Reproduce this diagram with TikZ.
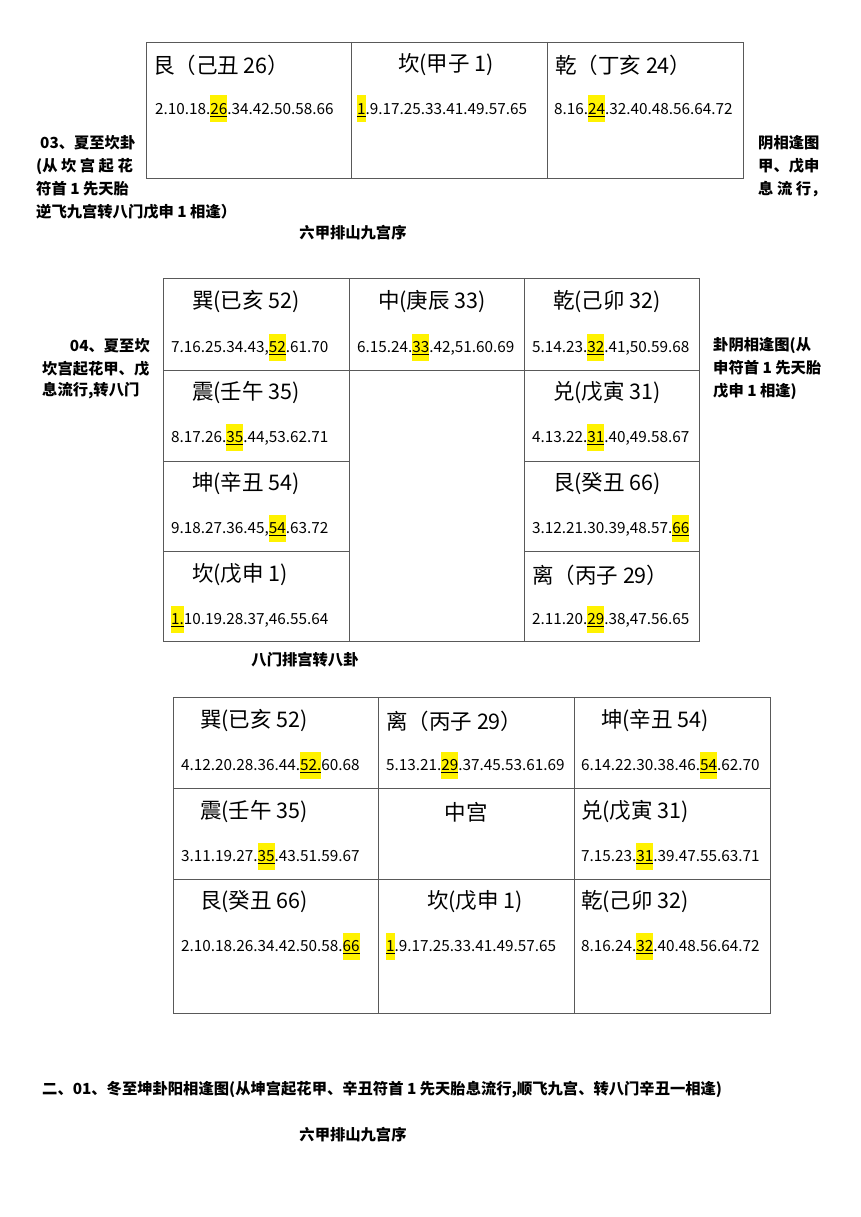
\documentclass[tikz,border=0pt]{standalone}
\usepackage{fontspec}
\setmainfont{Noto Sans CJK SC}
\usetikzlibrary{positioning}
\newcommand\hl[1]{{\setlength\fboxsep{0pt}\colorbox{yellow}{\rule[-8pt]{0pt}{27pt}\underline{#1}}}}
\tikzset{%
      grid/.style = { draw=black!65, line width=0.8pt },
       ttl/.style = { anchor=west, inner sep=0pt, font=\fontsize{21.5}{21.5}\selectfont },
       num/.style = { anchor=west, inner sep=0pt, font=\fontsize{15.3}{15.3}\selectfont },
      side/.style = { anchor=west, inner sep=0pt, font=\bfseries\fontsize{15.3}{15.3}\selectfont },
   caption/.style = { inner sep=0pt, font=\bfseries\fontsize{15.3}{15.3}\selectfont }
}
\begin{document}
\begin{tikzpicture}[x=1pt,y=-1pt]
\useasboundingbox (0,0) rectangle (860,1217);
% top table
\draw[grid] (146,42) rectangle (743,178);
\draw[grid] (351,42) -- (351,178) (547,42) -- (547,178);
\node[ttl] (gen1) at (153,65) {艮（己丑 26）};
\node[num] (gen1n) at (155,109) {2.10.18.\hl{26}.34.42.50.58.66};
\node[ttl] (kan1) at (398,65) {坎(甲子 1)};
\node[num] (kan1n) at (357,109) {\hl{1}.9.17.25.33.41.49.57.65};
\node[ttl] (qian1) at (555,65) {乾（丁亥 24）};
\node[num] (qian1n) at (554,109) {8.16.\hl{24}.32.40.48.56.64.72};
\node[side] (l1a) at (40,143) {03、夏至坎卦};
\node[side] (l1b) at (36,166) {(从 坎 宫 起 花};
\node[side] (l1c) at (36,189) {符首 1 先天胎};
\node[side] (l1d) at (36,212) {逆飞九宫转八门戊申 1 相逢）};
\node[side] (r1a) at (758,143) {阴相逢图};
\node[side] (r1b) at (758,166) {甲、戊申};
\node[side] (r1c) at (758,189) {息 流 行，};
\node[caption] (cap1) at (353,233) {六甲排山九宫序};
% middle table
\draw[grid] (163,278) rectangle (699,641);
\draw[grid] (349,278) -- (349,641) (524,278) -- (524,641);
\foreach \y in {370,461,551}
  \draw[grid] (163,\y) -- (349,\y) (524,\y) -- (699,\y);
\draw[grid] (349,370) -- (524,370);
\node[ttl] (xun2) at (192,302) {巽(已亥 52)};
\node[num] (xun2n) at (171,347) {7.16.25.34.43,\hl{52}.61.70};
\node[ttl] (zhong2) at (378,302) {中(庚辰 33)};
\node[num] (zhong2n) at (357,347) {6.15.24.\hl{33}.42,51.60.69};
\node[ttl] (qian2) at (553,302) {乾(己卯 32)};
\node[num] (qian2n) at (532,347) {5.14.23.\hl{32}.41,50.59.68};
\node[ttl] (zhen2) at (192,393) {震(壬午 35)};
\node[num] (zhen2n) at (171,437) {8.17.26.\hl{35}.44,53.62.71};
\node[ttl] (dui2) at (553,393) {兑(戊寅 31)};
\node[num] (dui2n) at (532,437) {4.13.22.\hl{31}.40,49.58.67};
\node[ttl] (kun2) at (192,484) {坤(辛丑 54)};
\node[num] (kun2n) at (171,528) {9.18.27.36.45,\hl{54}.63.72};
\node[ttl] (gen2) at (553,484) {艮(癸丑 66)};
\node[num] (gen2n) at (532,528) {3.12.21.30.39,48.57.\hl{66}};
\node[ttl] (kan2) at (192,575) {坎(戊申 1)};
\node[num] (kan2n) at (171,619) {\hl{1.}10.19.28.37,46.55.64};
\node[ttl] (li2) at (532,575) {离（丙子 29）};
\node[num] (li2n) at (532,619) {2.11.20.\hl{29}.38,47.56.65};
\node[side, anchor=east] (l2a) at (150,346) {04、夏至坎};
\node[side] (l2b) at (42,369) {坎宫起花甲、戊};
\node[side] (l2c) at (42,391) {息流行,转八门};
\node[side] (r2a) at (713,345) {卦阴相逢图(从};
\node[side] (r2b) at (713,368) {申符首 1 先天胎};
\node[side] (r2c) at (713,391) {戊申 1 相逢)};
\node[caption] (cap2) at (305,660) {八门排宫转八卦};
% bottom table
\draw[grid] (173,697) rectangle (770,1013);
\draw[grid] (378,697) -- (378,1013) (574,697) -- (574,1013);
\draw[grid] (173,788) -- (770,788) (173,879) -- (770,879);
\node[ttl] (xun3) at (200,721) {巽(已亥 52)};
\node[num] (xun3n) at (181,765) {4.12.20.28.36.44.\hl{52.}60.68};
\node[ttl] (li3) at (386,721) {离（丙子 29）};
\node[num] (li3n) at (386,765) {5.13.21.\hl{29}.37.45.53.61.69};
\node[ttl] (kun3) at (601,721) {坤(辛丑 54)};
\node[num] (kun3n) at (581,765) {6.14.22.30.38.46.\hl{54}.62.70};
\node[ttl] (zhen3) at (200,812) {震(壬午 35)};
\node[num] (zhen3n) at (181,856) {3.11.19.27.\hl{35}.43.51.59.67};
\node[ttl, anchor=center] (zhong3) at (466,812) {中宫};
\node[ttl] (dui3) at (581,812) {兑(戊寅 31)};
\node[num] (dui3n) at (581,856) {7.15.23.\hl{31}.39.47.55.63.71};
\node[ttl] (gen3) at (200,902) {艮(癸丑 66)};
\node[num] (gen3n) at (181,946) {2.10.18.26.34.42.50.58.\hl{66}};
\node[ttl] (kan3) at (427,902) {坎(戊申 1)};
\node[num] (kan3n) at (386,946) {\hl{1}.9.17.25.33.41.49.57.65};
\node[ttl] (qian3) at (581,902) {乾(己卯 32)};
\node[num] (qian3n) at (581,946) {8.16.24.\hl{32}.40.48.56.64.72};
\node[side] (b1) at (42,1090) {二、01、冬至坤卦阳相逢图(从坤宫起花甲、辛丑符首 1 先天胎息流行,顺飞九宫、转八门辛丑一相逢)};
\node[caption] (cap3) at (353,1135) {六甲排山九宫序};
\end{tikzpicture}
\end{document}
